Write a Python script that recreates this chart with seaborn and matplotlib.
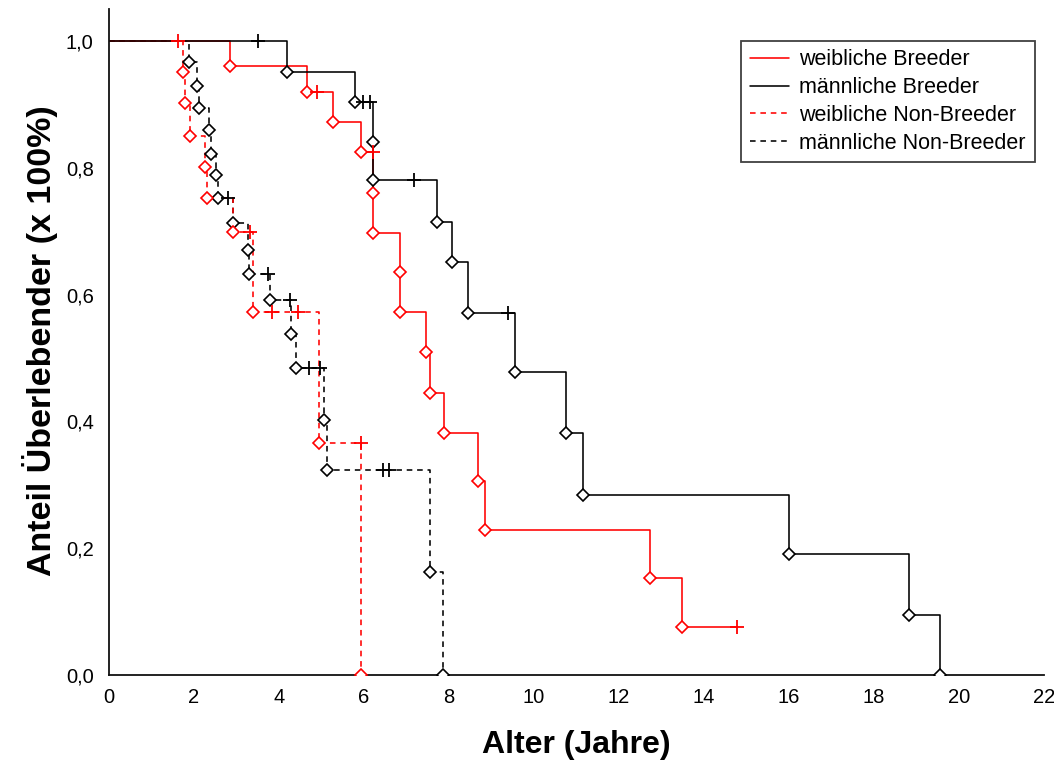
import numpy as np
import pandas as pd
import matplotlib
matplotlib.use("Agg")
import matplotlib.pyplot as plt
from matplotlib.lines import Line2D
import seaborn as sns

# ---------------- data ----------------
groups = ["weibliche Breeder", "männliche Breeder",
          "weibliche Non-Breeder", "männliche Non-Breeder"]

fb_times = [2.85, 4.66, 5.27, 5.93, 6.21, 6.21, 6.85, 6.85, 7.46, 7.55, 7.88, 8.68, 8.85, 12.73, 13.48]
fb_surv = [0.961, 0.920, 0.872, 0.825, 0.760, 0.697, 0.636, 0.573, 0.509, 0.445, 0.382, 0.306, 0.229, 0.153, 0.076]
fb_cens = [4.90, 6.21, 14.78]

mb_times = [4.19, 5.80, 6.21, 6.21, 7.72, 8.07, 8.45, 9.55, 10.75, 11.15, 16.0, 18.82, 19.55]
mb_surv = [0.951, 0.904, 0.841, 0.781, 0.714, 0.651, 0.571, 0.478, 0.382, 0.284, 0.191, 0.095, 0.0]
mb_cens = [3.51, 5.98, 6.14, 7.18, 9.39]

fn_times = [1.73, 1.78, 1.91, 2.25, 2.31, 2.92, 3.39, 4.94, 5.93]
fn_surv = [0.951, 0.902, 0.850, 0.801, 0.752, 0.699, 0.573, 0.366, 0.0]
fn_cens = [1.62, 3.32, 3.84, 4.45, 5.93]

mn_times = [1.88, 2.07, 2.12, 2.35, 2.40, 2.52, 2.56, 2.92, 3.27, 3.29, 3.79, 4.28, 4.40, 5.06, 5.13, 7.55, 7.86]
mn_surv = [0.967, 0.929, 0.894, 0.860, 0.822, 0.789, 0.752, 0.713, 0.670, 0.632, 0.591, 0.538, 0.484, 0.402, 0.323, 0.162, 0.0]
mn_cens = [2.80, 3.74, 4.25, 4.70, 4.96, 6.45, 6.60]

x_ticks = list(range(0, 23, 2))
y_ticks = [0.0, 0.2, 0.4, 0.6, 0.8, 1.0]
y_ticklabels = ["0,0", "0,2", "0,4", "0,6", "0,8", "1,0"]

colors = {groups[0]: "#ff0000", groups[1]: "#000000",
          groups[2]: "#ff0000", groups[3]: "#000000"}
dashed = {groups[0]: False, groups[1]: False, groups[2]: True, groups[3]: True}

series = {
    groups[0]: (fb_times, fb_surv, fb_cens),
    groups[1]: (mb_times, mb_surv, mb_cens),
    groups[2]: (fn_times, fn_surv, fn_cens),
    groups[3]: (mn_times, mn_surv, mn_cens),
}

# ---------------- figure ----------------
sns.set_style("white")
plt.rcParams["font.family"] = ["Liberation Sans", "DejaVu Sans"]
plt.rcParams["text.color"] = "black"
plt.rcParams["axes.labelcolor"] = "black"

fig = plt.figure(figsize=(10.54, 7.67), dpi=100)
ax = fig.add_axes([0.1034, 0.1199, 0.887, 0.868])

draw_order = [groups[3], groups[2], groups[0], groups[1]]
for g in draw_order:
    t, s, c = series[g]
    t = np.asarray(t, float)
    s = np.asarray(s, float)
    c = np.asarray(c, float)
    # step line: start at (0, 1), events, extend to the last censoring time
    line_t = np.concatenate([[0.0], t])
    line_s = np.concatenate([[1.0], s])
    if len(c) and c.max() > t.max():
        line_t = np.append(line_t, c.max())
        line_s = np.append(line_s, s[-1])
    df_line = pd.DataFrame({"t": line_t, "s": line_s})
    sns.lineplot(data=df_line, x="t", y="s", ax=ax, estimator=None, sort=False,
                 drawstyle="steps-post", color=colors[g], lw=1.15,
                 linestyle=(0, (3.5, 3.0)) if dashed[g] else "-", zorder=2)
    # event markers (open diamonds)
    df_ev = pd.DataFrame({"t": t, "s": s})
    ax.plot(df_ev["t"], df_ev["s"], ls="none", marker="D", ms=6.5, mfc="white",
            mec=colors[g], mew=1.2, zorder=3)
    # censor markers (+) at the survival level just before time c
    idx = np.searchsorted(t, c, side="left")
    lvl = np.where(idx == 0, 1.0, s[np.maximum(idx - 1, 0)])
    ax.plot(c, lvl, ls="none", marker="+", ms=10, mec=colors[g], mew=1.3, zorder=4)

ax.set_xlim(0, 22)
ax.set_ylim(0, 1.05)
ax.set_xticks(x_ticks)
ax.set_xticklabels([str(v) for v in x_ticks])
ax.set_yticks(y_ticks)
ax.set_yticklabels(y_ticklabels)
ax.tick_params(axis="both", length=0, labelsize=14.5, colors="black")
ax.tick_params(axis="y", pad=11)
ax.tick_params(axis="x", pad=9)

for side in ["top", "right"]:
    ax.spines[side].set_visible(False)
for side in ["left", "bottom"]:
    ax.spines[side].set_color("#111111")
    ax.spines[side].set_linewidth(1.3)

ax.set_xlabel("Alter (Jahre)", fontsize=23, fontweight="bold", color="black")
ax.set_ylabel("Anteil Überlebender (x 100%)", fontsize=24.5, fontweight="bold", color="black")
ax.xaxis.label.set_va("center")
ax.xaxis.set_label_coords(0.5, -0.105)
ax.yaxis.label.set_va("center")
ax.yaxis.set_label_coords(-0.074, 0.503)

handles = [Line2D([], [], color=colors[g], lw=1.15,
                  linestyle=(0, (3.5, 3.0)) if dashed[g] else "-") for g in groups]
leg = ax.legend(handles, groups, loc="upper right", bbox_to_anchor=(0.990, 0.953),
                borderaxespad=0, fontsize=15.5, frameon=True, fancybox=False,
                handlelength=1.8, handletextpad=0.5, labelspacing=0.32,
                borderpad=0.4)
leg.get_frame().set_edgecolor("#111111")
leg.get_frame().set_linewidth(1.3)
for txt in leg.get_texts():
    txt.set_color("black")

fig.savefig("out.png", dpi=100)
